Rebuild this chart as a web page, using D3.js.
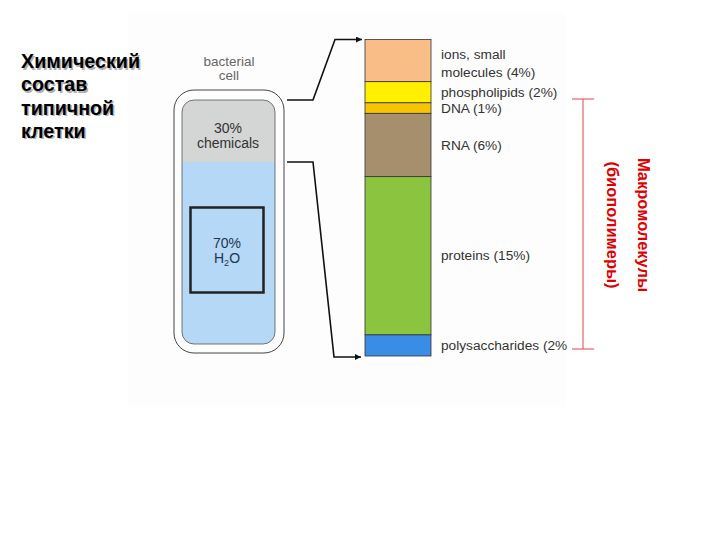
<!DOCTYPE html>
<html>
<head>
<meta charset="utf-8">
<script src="https://cdn.jsdelivr.net/npm/d3@7"></script>
<style>
  body { margin: 0; background: #fff; }
  svg { display: block; }
  text { font-family: "Liberation Sans", Arial, sans-serif; }
</style>
</head>
<body>
<svg id="chart" width="720" height="540"></svg>
<script>
// cell content (percent)
var cellParts = ["chemicals", "H2O"];
var cellPercents = [30, 70];

// breakdown of the 30% chemicals (percent of cell)
var components = ["ions, small|molecules (4%)", "phospholipids (2%)", "DNA (1%)", "RNA (6%)", "proteins (15%)", "polysaccharides (2%"];
var percents = [4, 2, 1, 6, 15, 2];
var colors = ["#f9be88", "#fff000", "#f6c400", "#a68f6c", "#8bc43e", "#3a8de4"];

var svg = d3.select("#chart");

// picture background
svg.append("rect")
  .attr("x", 128).attr("y", 13)
  .attr("width", 438).attr("height", 394)
  .attr("fill", "#fdfdfd");

// title with light shadow
var title = ["Химический", "состав", "типичной", "клетки"];
[[1.5, "#b0b0b0"], [0, "#000"]].forEach(function (s) {
  svg.append("g").selectAll("text")
    .data(title)
    .enter().append("text")
    .attr("x", 21 + s[0])
    .attr("y", function (d, i) { return 68 + i * 23.3 + s[0]; })
    .attr("font-size", 19.7)
    .attr("font-weight", "bold")
    .attr("fill", s[1])
    .text(function (d) { return d; });
});

// ---- bacterial cell ----
var cellY = d3.scaleLinear().domain([0, 100]).range([84, 344]);
var inner = { x: 182, y: 100, w: 93, h: 244, r: 12 };

svg.append("clipPath").attr("id", "cellClip")
  .append("rect")
  .attr("x", inner.x).attr("y", inner.y)
  .attr("width", inner.w).attr("height", inner.h)
  .attr("rx", inner.r);

var acc = 0;
var cellData = cellPercents.map(function (v, i) {
  var d = { name: cellParts[i], v: v, y0: acc, y1: acc + v };
  acc += v;
  return d;
});

svg.append("g").attr("clip-path", "url(#cellClip)")
  .selectAll("rect")
  .data(cellData)
  .enter().append("rect")
  .attr("x", inner.x)
  .attr("y", function (d) { return cellY(d.y0); })
  .attr("width", inner.w)
  .attr("height", function (d) { return cellY(d.y1) - cellY(d.y0); })
  .attr("fill", function (d, i) { return i === 0 ? "#d4d5d5" : "#b5d8f6"; });

svg.append("rect")
  .attr("x", inner.x).attr("y", inner.y)
  .attr("width", inner.w).attr("height", inner.h)
  .attr("rx", inner.r)
  .attr("fill", "none").attr("stroke", "#555").attr("stroke-width", 0.8);

svg.append("rect")
  .attr("x", 174).attr("y", 90)
  .attr("width", 110).attr("height", 263)
  .attr("rx", 20)
  .attr("fill", "none").attr("stroke", "#444").attr("stroke-width", 1);

// H2O box
svg.append("rect")
  .attr("x", 190.5).attr("y", 207.5)
  .attr("width", 73).attr("height", 85)
  .attr("fill", "none").attr("stroke", "#222").attr("stroke-width", 2.5);

svg.append("text").attr("x", 229).attr("y", 66)
  .attr("text-anchor", "middle").attr("font-size", 13.5).attr("fill", "#666")
  .text("bacterial");
svg.append("text").attr("x", 229).attr("y", 80)
  .attr("text-anchor", "middle").attr("font-size", 13.5).attr("fill", "#666")
  .text("cell");

svg.append("text").attr("x", 228).attr("y", 133)
  .attr("text-anchor", "middle").attr("font-size", 14).attr("fill", "#333")
  .text(cellPercents[0] + "%");
svg.append("text").attr("x", 228).attr("y", 148)
  .attr("text-anchor", "middle").attr("font-size", 14).attr("fill", "#333")
  .text(cellParts[0]);
svg.append("text").attr("x", 227).attr("y", 248)
  .attr("text-anchor", "middle").attr("font-size", 14).attr("fill", "#1f3550")
  .text(cellPercents[1] + "%");
var h2o = svg.append("text").attr("x", 227).attr("y", 263)
  .attr("text-anchor", "middle").attr("font-size", 14).attr("fill", "#1f3550");
h2o.append("tspan").text("H");
h2o.append("tspan").attr("font-size", 9).attr("dy", 3).text("2");
h2o.append("tspan").attr("dy", -3).text("O");

// ---- stacked bar ----
var barY = d3.scaleLinear().domain([0, d3.sum(percents)]).range([39.5, 356]);
var barX = 365, barW = 66;

acc = 0;
var segs = percents.map(function (v, i) {
  var d = { label: components[i], v: v, y0: acc, y1: acc + v, color: colors[i] };
  acc += v;
  return d;
});

svg.append("g").selectAll("rect")
  .data(segs)
  .enter().append("rect")
  .attr("x", barX)
  .attr("y", function (d) { return barY(d.y0); })
  .attr("width", barW)
  .attr("height", function (d) { return barY(d.y1) - barY(d.y0); })
  .attr("fill", function (d) { return d.color; })
  .attr("stroke", "#333").attr("stroke-width", 0.8);

var labels = svg.append("g").selectAll("text")
  .data(segs)
  .enter().append("text")
  .attr("x", 441)
  .attr("y", function (d) { return (barY(d.y0) + barY(d.y1)) / 2 + 4.5; })
  .attr("font-size", 13.7)
  .attr("fill", "#333");

labels.each(function (d) {
  var parts = d.label.split("|");
  var t = d3.select(this);
  if (parts.length > 1) {
    t.append("tspan").attr("x", 441).attr("dy", -6).text(parts[0]);
    t.append("tspan").attr("x", 441).attr("dy", 18).text(parts[1]);
  } else {
    t.text(parts[0]);
  }
});

// ---- connectors ----
svg.append("defs").append("marker")
  .attr("id", "arrow")
  .attr("viewBox", "0 0 10 10")
  .attr("refX", 10).attr("refY", 5)
  .attr("markerWidth", 10).attr("markerHeight", 6)
  .attr("markerUnits", "userSpaceOnUse")
  .attr("orient", "auto")
  .append("path").attr("d", "M0,0L10,5L0,10Z").attr("fill", "#111");

var line = d3.line();
svg.append("path")
  .attr("d", line([[287, cellY(0) + 16], [313, cellY(0) + 16], [335, barY(0)], [362, barY(0)]]))
  .attr("fill", "none").attr("stroke", "#111").attr("stroke-width", 1.6)
  .attr("marker-end", "url(#arrow)");
svg.append("path")
  .attr("d", line([[287, cellY(cellPercents[0])], [313, cellY(cellPercents[0])], [334, barY(d3.sum(percents)) + 1], [361, barY(d3.sum(percents)) + 1]]))
  .attr("fill", "none").attr("stroke", "#111").attr("stroke-width", 1.6)
  .attr("marker-end", "url(#arrow)");

// ---- red bracket for macromolecules (phospholipids .. polysaccharides) ----
var bTop = 99, bBot = 349;
var red = "#e8434a";
svg.append("line").attr("x1", 583).attr("x2", 583).attr("y1", bTop).attr("y2", bBot)
  .attr("stroke", red).attr("stroke-width", 1);
[bTop, bBot].forEach(function (y) {
  svg.append("line").attr("x1", 572).attr("x2", 594).attr("y1", y).attr("y2", y)
    .attr("stroke", red).attr("stroke-width", 1);
});

var rot = svg.append("g").attr("transform", "translate(638,225) rotate(90)");
rot.append("text").attr("x", 0).attr("y", 0)
  .attr("text-anchor", "middle").attr("font-size", 16.5).attr("font-weight", "bold")
  .attr("fill", "#e00000").text("Макромолекулы");
rot.append("text").attr("x", 0).attr("y", 31)
  .attr("text-anchor", "middle").attr("font-size", 16.5).attr("font-weight", "bold")
  .attr("fill", "#e00000").text("(биополимеры)");
</script>
</body>
</html>
